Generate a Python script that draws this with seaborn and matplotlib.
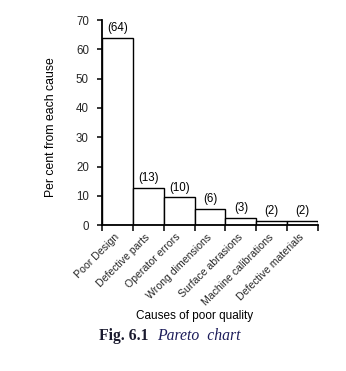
import matplotlib
matplotlib.use("Agg")
import matplotlib.pyplot as plt
import seaborn as sns
import pandas as pd
import numpy as np

causes = ["Poor Design", "Defective parts", "Operator errors", "Wrong dimensions",
          "Surface abrasions", "Machine calibrations", "Defective materials"]
percent = [64, 12.7, 9.5, 5.6, 2.5, 1.5, 1.5]
value_labels = ["(64)", "(13)", "(10)", "(6)", "(3)", "(2)", "(2)"]
yticks = [0, 10, 20, 30, 40, 50, 60, 70]

sns.set_theme(style="ticks")
plt.rcParams['font.family'] = ['Liberation Sans', 'DejaVu Sans']

df = pd.DataFrame({"cause": causes, "percent": percent})

fig = plt.figure(figsize=(3.46, 3.71), dpi=100)
ax = fig.add_axes([0.295, 0.393, 0.624, 0.553])

sns.barplot(data=df, x="cause", y="percent", ax=ax, width=1.0,
            color="white", edgecolor="black", linewidth=1.0, saturation=1)

for i, (v, lab) in enumerate(zip(percent, value_labels)):
    ax.text(i, v + 1.3, lab, ha="center", va="bottom", fontsize=8.3, color="black")

ax.set_ylim(0, 70)
ax.set_xlim(-0.5, len(causes) - 0.5)
ax.set_yticks(yticks)
ax.set_yticklabels([str(t) for t in yticks], fontsize=8.3)
ax.set_xticks(np.arange(len(causes)) - 0.12)
ax.set_xticklabels(causes, rotation=45, ha="right", rotation_mode="anchor", fontsize=7.6)
ax.tick_params(axis="x", which="major", length=0, pad=5)
ax.set_xticks(np.arange(-0.5, len(causes), 1.0), minor=True)
ax.tick_params(axis="x", which="minor", length=4, width=1.1, direction="out", color="black")
ax.tick_params(axis="y", length=3.5, width=1.1, direction="out", color="black", pad=6)

for s in ["top", "right"]:
    ax.spines[s].set_visible(False)
for s in ["left", "bottom"]:
    ax.spines[s].set_color("black")
    ax.spines[s].set_linewidth(1.3)

ax.set_xlabel("")
ax.set_ylabel("Per cent from each cause", fontsize=8.8, color="black")
ax.yaxis.set_label_coords(-0.208, 0.48)

fig.text(0.563, 0.148, "Causes of poor quality", ha="center", va="center",
         fontsize=8.5, color="black")

fig.text(0.287, 0.094, "Fig. 6.1", ha="left", va="center", fontsize=11.3,
         fontweight="bold", family="Liberation Serif", color="#1a1a2e")
fig.text(0.455, 0.094, "Pareto  chart", ha="left", va="center", fontsize=11.3,
         fontstyle="italic", family="Liberation Serif", color="#1c1c5a")

fig.savefig("out.png", dpi=100, facecolor="white")
